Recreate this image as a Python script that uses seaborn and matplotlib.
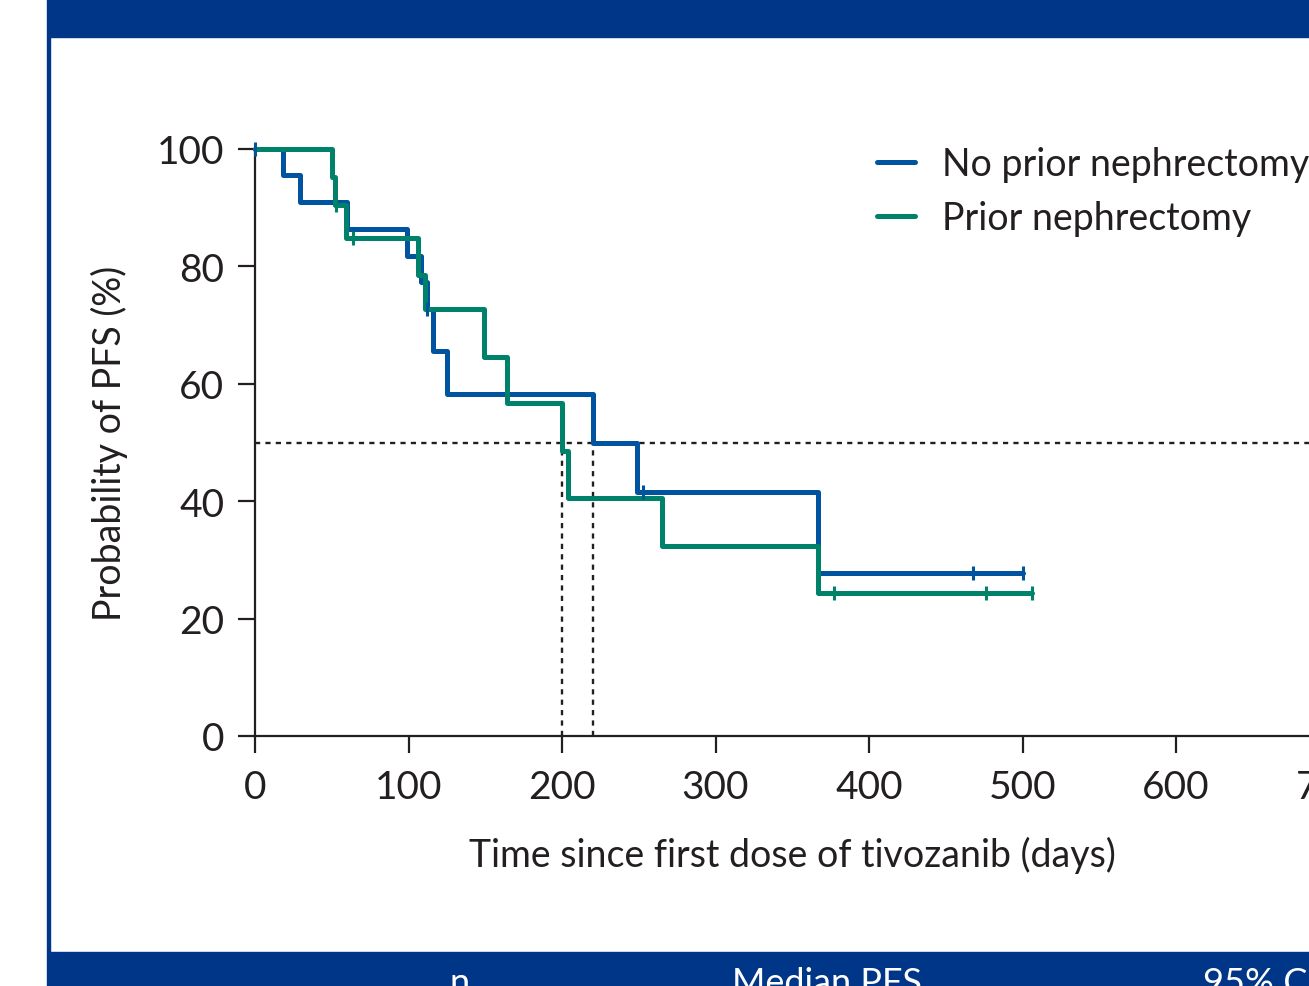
###########################################################################################
# imports
import numpy as np
import matplotlib
matplotlib.use('Agg')
import matplotlib.pyplot as plt
from matplotlib.patches import Rectangle
from seaborn import lineplot
from seaborn import scatterplot
from seaborn import set_theme

###########################################################################################
# data (KM steps, time in days, PFS in %)

group_names = ['No prior nephrectomy', 'Prior nephrectomy']

no_neph_time = [0, 18, 29, 60, 99, 108, 112, 116, 125, 220, 249, 367, 500]
no_neph_surv = [100, 95.5, 90.9, 86.4, 81.8, 77.3, 72.7, 65.6, 58.3, 50.0, 41.6, 27.8, 27.8]
no_neph_censor = [0, 112, 253, 468, 500]

neph_time = [0, 50, 52, 59, 106, 111, 149, 164, 200, 204, 265, 367, 506]
neph_surv = [100, 95.2, 90.5, 84.8, 78.6, 72.7, 64.6, 56.7, 48.6, 40.5, 32.4, 24.3, 24.3]
neph_censor = [53, 64, 377, 476, 506]

median_pfs = [220, 200]

x_ticks = [0, 100, 200, 300, 400, 500, 600, 700]
y_ticks = [0, 20, 40, 60, 80, 100]

table_header = ['n', 'Median PFS', '95% CI']

###########################################################################################
# style

BLUE = '#00539f'
GREEN = '#00826a'
BAND = '#003687'
INK = '#231f20'
W, H = 1309, 987
CURVE_LW = 3.6


def surv_at(times, survs, t):
    # value of step function at time t
    idx = np.searchsorted(times, t, side='right') - 1
    return survs[idx]


def plot_km():
    set_theme(style='ticks')
    plt.rcParams['font.family'] = ['Lato', 'DejaVu Sans']
    plt.rcParams['text.color'] = INK

    fig = plt.figure(figsize=(W / 100, H / 100), dpi=100)

    # frame of the panel
    fig.patches.append(Rectangle((47 / W, 1 - 38 / H), 1, 38 / H,
                                 transform=fig.transFigure, color=BAND, zorder=0))
    fig.patches.append(Rectangle((47 / W, 0), 1, 34 / H,
                                 transform=fig.transFigure, color=BAND, zorder=0))
    fig.patches.append(Rectangle((47 / W, 34 / H), 2.5 / W, 1 - 72 / H,
                                 transform=fig.transFigure, color=BAND, zorder=0))

    ax = fig.add_axes([255 / W, 1 - 737 / H, (1329.6 - 255) / W, (737 - 150) / H])
    ax.set_facecolor('none')

    # median lines
    ax.plot([0, 700], [50, 50], color=INK, lw=1.7, ls=(0, (2.2, 2.2)), clip_on=False, zorder=1)
    for m in median_pfs:
        ax.plot([m, m], [0, 50], color=INK, lw=1.7, ls=(0, (2.2, 2.2)), zorder=1)

    curves = [(no_neph_time, no_neph_surv, no_neph_censor, BLUE),
              (neph_time, neph_surv, neph_censor, GREEN)]
    for name, (t, s, c, col) in zip(group_names, curves):
        lineplot(x=t, y=s, ax=ax, color=col, linewidth=CURVE_LW, drawstyle='steps-post',
                 estimator=None, sort=False, label=name, clip_on=False, zorder=3)
        cy = [surv_at(np.array(t), np.array(s), ct) for ct in c]
        scatterplot(x=c, y=cy, ax=ax, marker='|', s=100, linewidth=2.2,
                    color=col, clip_on=False, zorder=4, legend=False)

    ax.set_xlim(0, 700)
    ax.set_ylim(0, 100)
    ax.set_xticks(x_ticks)
    ax.set_yticks(y_ticks)
    for side in ['top', 'right']:
        ax.spines[side].set_visible(False)
    for side in ['left', 'bottom']:
        ax.spines[side].set_linewidth(1.6)
        ax.spines[side].set_color(INK)
    ax.tick_params(axis='both', length=12, width=1.6, color=INK,
                   labelsize=28, labelcolor=INK)
    ax.tick_params(axis='y', pad=10)
    ax.tick_params(axis='x', pad=12)

    ax.set_xlabel('Time since first dose of tivozanib (days)', fontsize=27,
                  color=INK, labelpad=22)
    ax.set_ylabel('Probability of PFS (%)', fontsize=27, color=INK, labelpad=21)

    leg = ax.legend(loc='upper left', bbox_to_anchor=(877 / W, 1 - 147 / H),
                    bbox_transform=fig.transFigure, frameon=False, fontsize=27,
                    handlelength=1.0, handletextpad=0.72, borderpad=0,
                    borderaxespad=0, labelspacing=0.48)
    for line in leg.get_lines():
        line.set_linewidth(CURVE_LW)

    # header of the table below the chart (cut off)
    for label, xc in zip(table_header, [460, 827, 1203]):
        ha = 'left' if label.startswith('95') else 'center'
        fig.text(xc / W, 1 - 967 / H, label, color='white', fontsize=26,
                 ha=ha, va='top')

    fig.savefig('out.png', dpi=100)
    plt.close(fig)


def main():
    plot_km()


if __name__ == '__main__':
    main()
